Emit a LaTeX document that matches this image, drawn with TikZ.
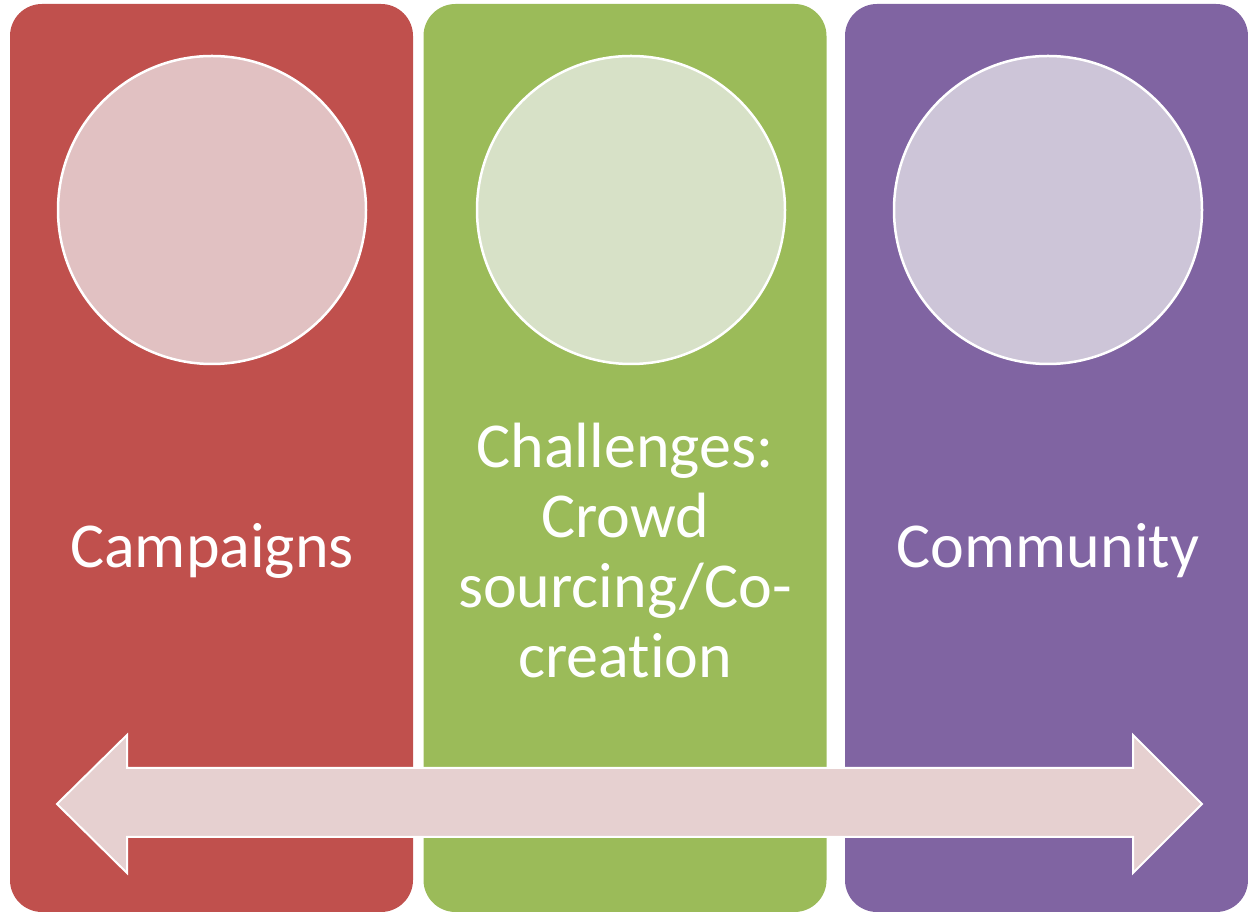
\documentclass[tikz,border=0pt]{standalone}
\usepackage{fontspec}
\setmainfont{Carlito}[Ligatures=NoCommon]
\usetikzlibrary{positioning, shapes}
\definecolor{panelred}{HTML}{C0504D}
\definecolor{panelgreen}{HTML}{9BBB59}
\definecolor{panelpurple}{HTML}{8064A2}
\definecolor{discred}{HTML}{E1C1C2}
\definecolor{discgreen}{HTML}{D7E1C7}
\definecolor{discpurple}{HTML}{CDC5D8}
\definecolor{arrowfill}{HTML}{E6D0D0}
\tikzset{
	panel/.style={rectangle, rounded corners=32pt, minimum width=403pt, minimum height=908pt, inner sep=0pt},
	disc/.style={circle, draw=white, line width=2.5pt, minimum size=308pt, inner sep=0pt},
	caption/.style={text=white, align=center, font=\fontsize{64}{70}\selectfont}
}

\begin{document}
\begin{tikzpicture}[x=1pt,y=1pt]
		\useasboundingbox (0,0) rectangle (1248,913);
			% panels
			\node[panel, fill=panelred] (camp) at (211.5,455) {};
			\node[panel, fill=panelgreen] (chal) at (625,455) {};
			\node[panel, fill=panelpurple] (comm) at (1046.5,455) {};

			% discs
			\node[disc, fill=discred] (campdisc) at (212,703) {};
			\node[disc, fill=discgreen] (chaldisc) at (631,703) {};
			\node[disc, fill=discpurple] (commdisc) at (1048,703) {};

			% captions
			\node[caption] (camptext) at (212,362) {Campaigns};
			\node[caption] (chaltext) at (625,362) {Challenges:\\Crowd\\sourcing/Co-\\creation};
			\node[caption] (commtext) at (1048,362) {Community};

			% double arrow
			\filldraw[fill=arrowfill, draw=white, line width=2pt]
				(57,109) -- (127,178) -- (127,145) -- (1133,145) -- (1133,178) -- (1202,109)
				-- (1133,40) -- (1133,76) -- (127,76) -- (127,40) -- cycle;
	\end{tikzpicture}
\end{document}
